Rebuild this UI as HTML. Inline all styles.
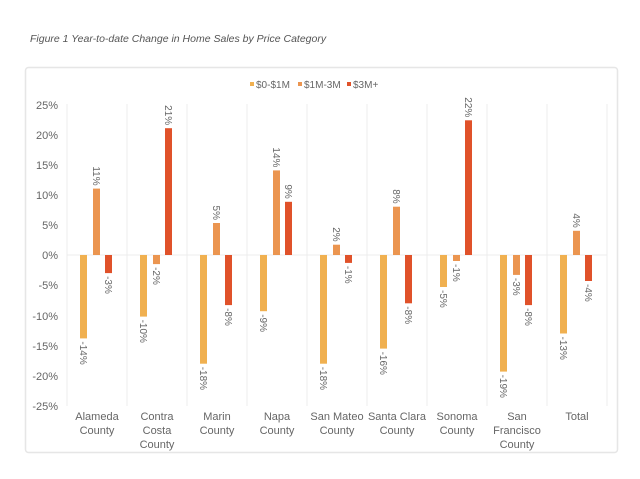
<!DOCTYPE html>
<html><head><meta charset="utf-8"><style>
body{margin:0;background:#fff;}
svg{display:block;font-family:"Liberation Sans",sans-serif;}
</style></head><body>
<svg width="640" height="479" viewBox="0 0 640 479" xmlns="http://www.w3.org/2000/svg">
<text x="30" y="42" font-size="10.5" font-style="italic" fill="#555">Figure 1 Year-to-date Change in Home Sales by Price Category</text>
<rect x="25.5" y="67.5" width="592" height="385" fill="#fff" stroke="#e6e6e6" stroke-width="1.5" rx="3"/>
<g font-size="10" fill="#666">
<rect x="250" y="82" width="4" height="4" fill="#f0b050"/><text x="256" y="88">$0-$1M</text>
<rect x="298" y="82" width="4" height="4" fill="#eb9550"/><text x="304" y="88">$1M-3M</text>
<rect x="347" y="82" width="4" height="4" fill="#e0522a"/><text x="353" y="88">$3M+</text>
</g>
<g stroke="#ececec" stroke-width="1">
<line x1="67" y1="104" x2="67" y2="406"/><line x1="127" y1="104" x2="127" y2="406"/><line x1="187" y1="104" x2="187" y2="406"/><line x1="247" y1="104" x2="247" y2="406"/><line x1="307" y1="104" x2="307" y2="406"/><line x1="367" y1="104" x2="367" y2="406"/><line x1="427" y1="104" x2="427" y2="406"/><line x1="487" y1="104" x2="487" y2="406"/><line x1="547" y1="104" x2="547" y2="406"/><line x1="607" y1="104" x2="607" y2="406"/>
<line x1="67" y1="255" x2="607" y2="255"/>
</g>
<g font-size="11" fill="#666" text-anchor="end">
<text x="58" y="109">25%</text><text x="58" y="139">20%</text><text x="58" y="169">15%</text><text x="58" y="199">10%</text><text x="58" y="229">5%</text><text x="58" y="259">0%</text><text x="58" y="289">-5%</text><text x="58" y="320">-10%</text><text x="58" y="350">-15%</text><text x="58" y="380">-20%</text><text x="58" y="410">-25%</text>
</g>
<g>
<rect x="80" y="255" width="7" height="83.4" fill="#f0b050"/>
<rect x="93" y="188.6" width="7" height="66.4" fill="#eb9550"/>
<rect x="105" y="255" width="7" height="18.1" fill="#e0522a"/>
<rect x="140" y="255" width="7" height="61.6" fill="#f0b050"/>
<rect x="153" y="255" width="7" height="9.1" fill="#eb9550"/>
<rect x="165" y="128.2" width="7" height="126.8" fill="#e0522a"/>
<rect x="200" y="255" width="7" height="108.7" fill="#f0b050"/>
<rect x="213" y="223" width="7" height="32" fill="#eb9550"/>
<rect x="225" y="255" width="7" height="50.1" fill="#e0522a"/>
<rect x="260" y="255" width="7" height="56.2" fill="#f0b050"/>
<rect x="273" y="170.4" width="7" height="84.6" fill="#eb9550"/>
<rect x="285" y="201.8" width="7" height="53.2" fill="#e0522a"/>
<rect x="320" y="255" width="7" height="108.7" fill="#f0b050"/>
<rect x="333" y="244.7" width="7" height="10.3" fill="#eb9550"/>
<rect x="345" y="255" width="7" height="7.9" fill="#e0522a"/>
<rect x="380" y="255" width="7" height="93.6" fill="#f0b050"/>
<rect x="393" y="206.7" width="7" height="48.3" fill="#eb9550"/>
<rect x="405" y="255" width="7" height="48.3" fill="#e0522a"/>
<rect x="440" y="255" width="7" height="32" fill="#f0b050"/>
<rect x="453" y="255" width="7" height="6" fill="#eb9550"/>
<rect x="465" y="120.3" width="7" height="134.7" fill="#e0522a"/>
<rect x="500" y="255" width="7" height="116.6" fill="#f0b050"/>
<rect x="513" y="255" width="7" height="19.9" fill="#eb9550"/>
<rect x="525" y="255" width="7" height="50.1" fill="#e0522a"/>
<rect x="560" y="255" width="7" height="78.5" fill="#f0b050"/>
<rect x="573" y="230.8" width="7" height="24.2" fill="#eb9550"/>
<rect x="585" y="255" width="7" height="26" fill="#e0522a"/>
</g>
<g font-size="10" fill="#666">
<text transform="translate(80,341.4) rotate(90)">-14%</text>
<text transform="translate(93,185.6) rotate(90)" text-anchor="end">11%</text>
<text transform="translate(105,276.1) rotate(90)">-3%</text>
<text transform="translate(140,319.6) rotate(90)">-10%</text>
<text transform="translate(153,267.1) rotate(90)">-2%</text>
<text transform="translate(165,125.2) rotate(90)" text-anchor="end">21%</text>
<text transform="translate(200,366.7) rotate(90)">-18%</text>
<text transform="translate(213,220) rotate(90)" text-anchor="end">5%</text>
<text transform="translate(225,308.1) rotate(90)">-8%</text>
<text transform="translate(260,314.2) rotate(90)">-9%</text>
<text transform="translate(273,167.4) rotate(90)" text-anchor="end">14%</text>
<text transform="translate(285,198.8) rotate(90)" text-anchor="end">9%</text>
<text transform="translate(320,366.7) rotate(90)">-18%</text>
<text transform="translate(333,241.7) rotate(90)" text-anchor="end">2%</text>
<text transform="translate(345,265.9) rotate(90)">-1%</text>
<text transform="translate(380,351.6) rotate(90)">-16%</text>
<text transform="translate(393,203.7) rotate(90)" text-anchor="end">8%</text>
<text transform="translate(405,306.3) rotate(90)">-8%</text>
<text transform="translate(440,290) rotate(90)">-5%</text>
<text transform="translate(453,264) rotate(90)">-1%</text>
<text transform="translate(465,117.3) rotate(90)" text-anchor="end">22%</text>
<text transform="translate(500,374.6) rotate(90)">-19%</text>
<text transform="translate(513,277.9) rotate(90)">-3%</text>
<text transform="translate(525,308.1) rotate(90)">-8%</text>
<text transform="translate(560,336.5) rotate(90)">-13%</text>
<text transform="translate(573,227.8) rotate(90)" text-anchor="end">4%</text>
<text transform="translate(585,284) rotate(90)">-4%</text>
</g>
<g font-size="11" fill="#666" text-anchor="middle">
<text x="97" y="420">Alameda</text><text x="97" y="434">County</text>
<text x="157" y="420">Contra</text><text x="157" y="434">Costa</text><text x="157" y="448">County</text>
<text x="217" y="420">Marin</text><text x="217" y="434">County</text>
<text x="277" y="420">Napa</text><text x="277" y="434">County</text>
<text x="337" y="420">San Mateo</text><text x="337" y="434">County</text>
<text x="397" y="420">Santa Clara</text><text x="397" y="434">County</text>
<text x="457" y="420">Sonoma</text><text x="457" y="434">County</text>
<text x="517" y="420">San</text><text x="517" y="434">Francisco</text><text x="517" y="448">County</text>
<text x="577" y="420">Total</text>
</g>
</svg>
</body></html>
